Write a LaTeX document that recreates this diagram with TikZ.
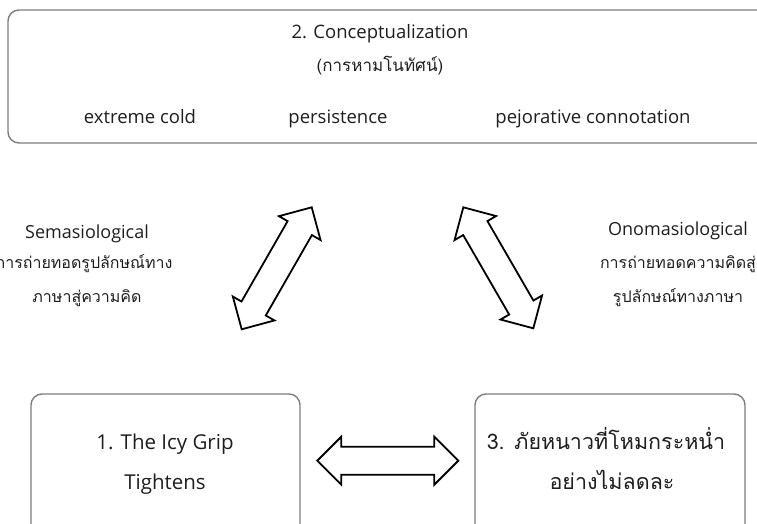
\documentclass[tikz,border=0pt]{standalone}
\usepackage{fontspec}
\setmainfont{Open Sans}
\newfontfamily\thaifont[Script=Thai]{Loma}
\usetikzlibrary{calc}
\definecolor{boxgray}{RGB}{125,125,125}
\definecolor{txtcol}{RGB}{30,30,30}
\tikzset{
  box/.style={draw=boxgray, line width=1.4pt, rounded corners=11pt},
  txt/.style={anchor=base, inner sep=0pt, text=txtcol},
  toptxt/.style={txt, font=\fontsize{18.5}{22}\selectfont},
  toptha/.style={txt, font=\thaifont\fontsize{17}{20}\selectfont},
  labtxt/.style={txt, font=\fontsize{18}{21}\selectfont},
  labtha/.style={txt, font=\thaifont\fontsize{16}{19}\selectfont},
  bigtxt/.style={txt, font=\fontsize{20.5}{24}\selectfont},
  bigtha/.style={txt, font=\thaifont\fontsize{21.5}{25}\selectfont},
  arrowline/.style={draw=black, line width=1.8pt, fill=white, line join=miter}
}
\newcommand{\blockarrow}[2]{%
  \path let \p1=($(#2)-(#1)$) in \pgfextra{%
    \pgfmathsetmacro\bAang{atan2(\y1,\x1)}%
    \pgfmathsetmacro\bAlen{veclen(\x1,\y1)}%
    \global\let\bAang\bAang\global\let\bAlen\bAlen};
  \begin{scope}[shift={(#1)}, rotate=\bAang, x=1pt, y=1pt]
    \draw[arrowline] (0,0) -- (24,24) -- (24,14) -- (\bAlen-24,14)
      -- (\bAlen-24,24) -- (\bAlen,0) -- (\bAlen-24,-24) -- (\bAlen-24,-14)
      -- (24,-14) -- (24,-24) -- cycle;
  \end{scope}}
\begin{document}
\begin{tikzpicture}[x=1pt,y=-1pt]
\useasboundingbox (0,0) rectangle (757,524);
% boxes
\draw[box] (8,10) rectangle (790,143);
\draw[box] (31,394) rectangle (300,570);
\draw[box] (475,394) rectangle (745,570);
% top box text
\node[toptxt] (c2) at (380,38.5) {2. Conceptualization};
\node[toptha] (c2t) at (380,72) {(การหามโนทัศน์)};
\node[toptxt] (ec) at (140,123.5) {extreme cold};
\node[toptxt] (pe) at (338,123.5) {persistence};
\node[toptxt] (pc) at (593,123.5) {pejorative connotation};
% left label
\node[labtxt] (s1) at (87,238) {Semasiological};
\node[labtha] (s2) at (84,268) {การถ่ายทอดรูปลักษณ์ทาง};
\node[labtha] (s3) at (87,302) {ภาษาสู่ความคิด};
% right label
\node[labtxt] (o1) at (678,235) {Onomasiological};
\node[labtha] (o2) at (678,268) {การถ่ายทอดความคิดสู่};
\node[labtha] (o3) at (678,302) {รูปลักษณ์ทางภาษา};
% bottom boxes text
\node[bigtxt] (b1) at (165,449.5) {1. The Icy Grip};
\node[bigtxt] (b1b) at (165,489.5) {Tightens};
\node[bigtha] (b3) at (606,449) {3. ภัยหนาวที่โหมกระหน่ำ};
\node[bigtha] (b3b) at (612,489) {อย่างไม่ลดละ};
% arrow ends
\coordinate (la) at (241.7,329.3);
\coordinate (lb) at (311.7,207.3);
\coordinate (ra) at (463.3,207.3);
\coordinate (rb) at (533.3,328.3);
\coordinate (ha) at (317.3,460.7);
\coordinate (hb) at (458.3,460.7);
\blockarrow{la}{lb}
\blockarrow{ra}{rb}
\blockarrow{ha}{hb}
\end{tikzpicture}
\end{document}
